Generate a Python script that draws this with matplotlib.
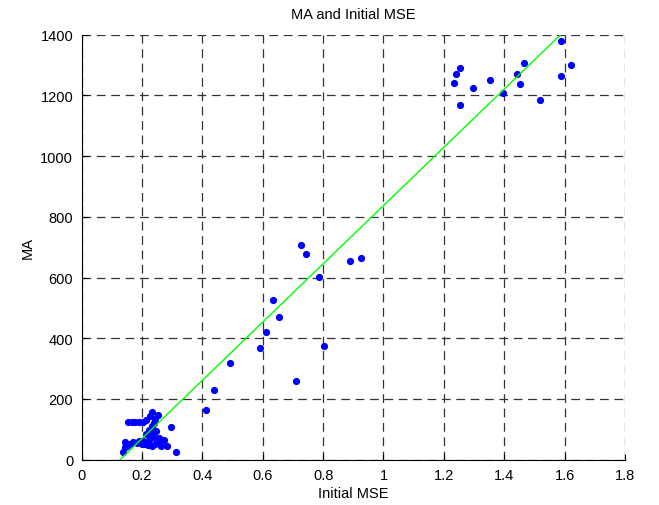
import matplotlib
matplotlib.use('Agg')
import matplotlib.pyplot as plt
import numpy as np

# Initial MSE (x) and MA (y) values
mse_low = [0.233, 0.228, 0.252, 0.245, 0.215, 0.205, 0.192, 0.178, 0.166, 0.155,
           0.240, 0.232, 0.222, 0.226, 0.212, 0.247, 0.296,
           0.144, 0.172, 0.185, 0.200, 0.210, 0.220, 0.232, 0.242, 0.252, 0.262,
           0.272, 0.283, 0.255, 0.240, 0.225, 0.192, 0.203,
           0.137, 0.144, 0.152, 0.313, 0.160]
ma_low = [158, 143, 147, 135, 130, 125, 125, 125, 125, 125,
          120, 110, 98, 88, 84, 95, 107,
          59, 57, 55, 52, 50, 48, 46, 50, 56, 46,
          64, 46, 70, 76, 66, 62, 60,
          26, 40, 45, 26, 50]

mse_mid = [0.413, 0.439, 0.491, 0.592, 0.612, 0.634, 0.654, 0.712,
           0.726, 0.742, 0.788, 0.804, 0.888, 0.924]
ma_mid = [164, 231, 317, 367, 419, 526, 469, 259,
          706, 677, 603, 374, 653, 664]

mse_high = [1.587, 1.620, 1.587, 1.517, 1.467, 1.442, 1.451, 1.396, 1.354,
            1.295, 1.255, 1.239, 1.233, 1.254]
ma_high = [1378, 1300, 1263, 1185, 1308, 1272, 1239, 1209, 1251,
           1225, 1291, 1271, 1242, 1168]

# least-squares line shown in green
fit_slope = 960.0
fit_intercept = -123.0
fit_x_range = [0.128, 1.62]

x_ticks = [0, 0.2, 0.4, 0.6, 0.8, 1.0, 1.2, 1.4, 1.6, 1.8]
x_tick_labels = ['0', '0.2', '0.4', '0.6', '0.8', '1', '1.2', '1.4', '1.6', '1.8']
y_ticks = [0, 200, 400, 600, 800, 1000, 1200, 1400]

plt.rcParams['font.family'] = ['Liberation Sans', 'DejaVu Sans']

x = np.array(mse_low + mse_mid + mse_high)
y = np.array(ma_low + ma_mid + ma_high)

fig = plt.figure(figsize=(6.59, 5.06), dpi=100)
ax = fig.add_axes([0.1237, 0.0897, 0.8247, 0.8397])

ax.scatter(x, y, s=27, color='#0000ff', zorder=3, linewidths=0)
fx = np.array(fit_x_range)
ax.plot(fx, fit_slope * fx + fit_intercept, color='#00ff00', linewidth=1.0, zorder=4)

ax.set_xlim(0, 1.8)
ax.set_ylim(0, 1400)
ax.set_xticks(x_ticks)
ax.set_xticklabels(x_tick_labels)
ax.set_yticks(y_ticks)
ax.tick_params(direction='in', length=4, labelsize=10.5, pad=6, top=False, right=False)

ax.grid(True, color='#333333', linestyle=(0, (7, 4.5)), linewidth=0.9)
ax.set_axisbelow(True)
ax.spines['top'].set_visible(False)
ax.spines['right'].set_visible(False)
ax.spines['left'].set_color('black')
ax.spines['bottom'].set_color('black')

ax.set_title('MA and Initial MSE', fontsize=10.5, pad=12)
ax.set_xlabel('Initial MSE', fontsize=10.5, labelpad=3)
ax.set_ylabel('MA', fontsize=10.5, labelpad=4)

fig.savefig('out.png', dpi=100, facecolor='white')
